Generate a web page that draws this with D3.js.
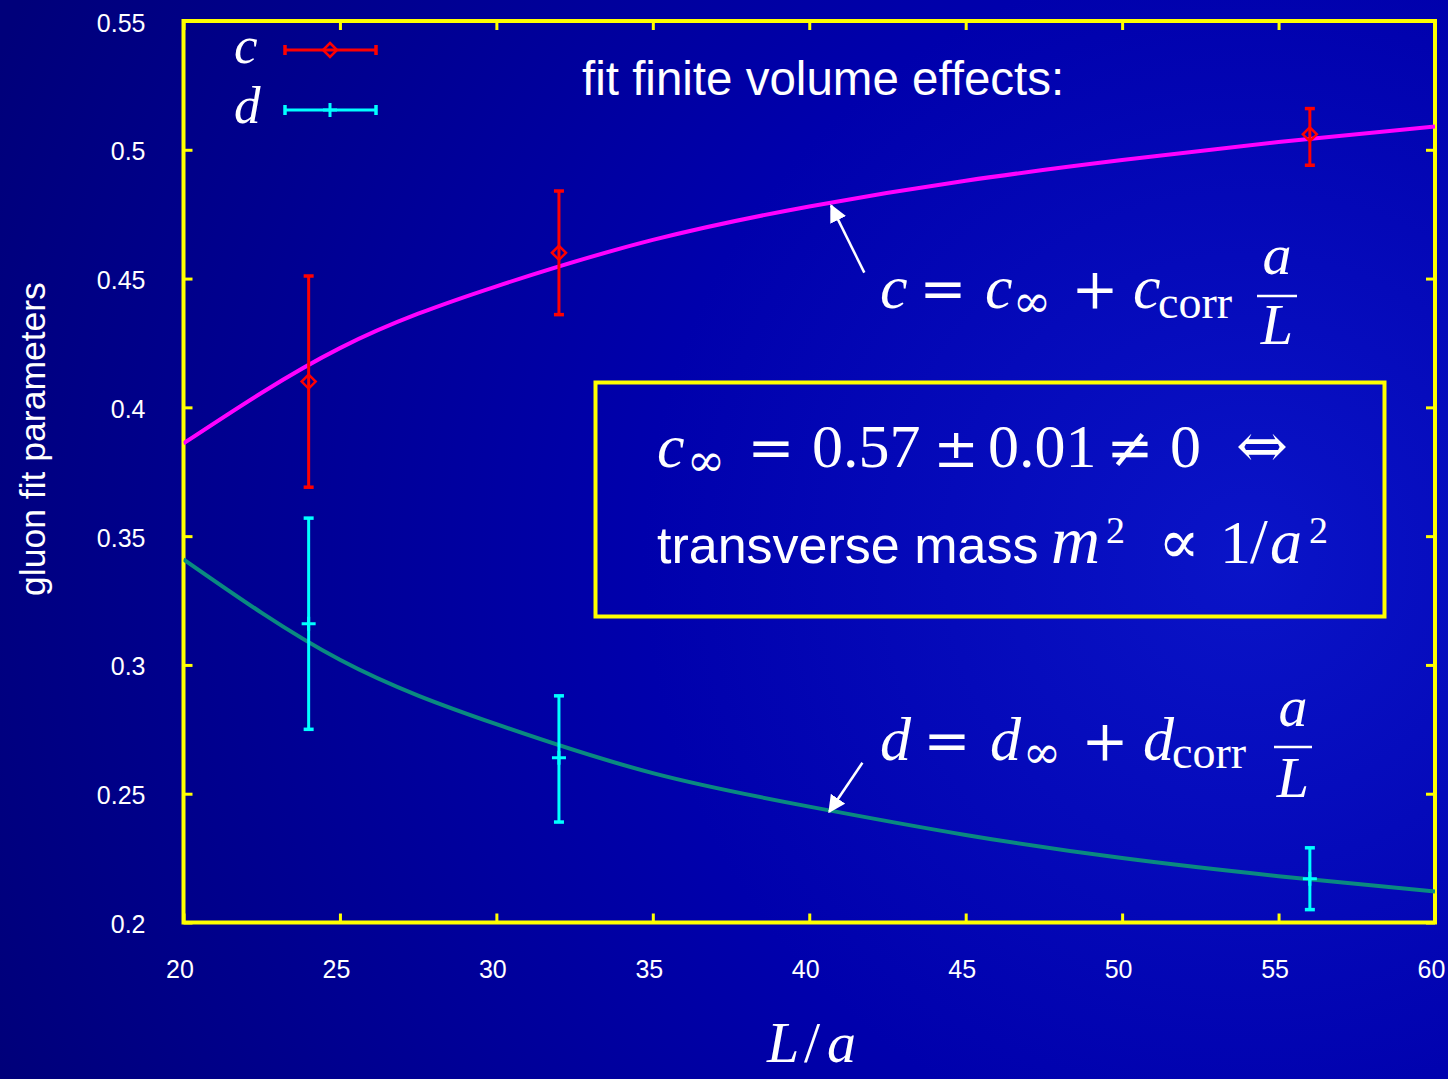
<!DOCTYPE html>
<html>
<head>
<meta charset="utf-8">
<script src="https://cdn.jsdelivr.net/npm/d3@7"></script>
<style>
  html, body { margin: 0; padding: 0; background: #000080; }
  svg { display: block; }
</style>
</head>
<body>
<svg id="chart" width="1448" height="1079"></svg>
<script>
// Measured fit parameters versus lattice extent L/a
const sizes = [24, 32, 56];
const cValues = [0.410, 0.460, 0.506];
const cLow = [0.369, 0.436, 0.494];
const cHigh = [0.451, 0.484, 0.516];
const dValues = [0.316, 0.264, 0.217];
const dLow = [0.275, 0.239, 0.205];
const dHigh = [0.357, 0.288, 0.229];

// Fitted curves c = c_inf + c_corr a/L and d = d_inf + d_corr a/L
const fitL = [20, 25, 30, 35, 40, 45, 50, 55, 60];
const cFit = [0.386, 0.423, 0.447, 0.465, 0.478, 0.488, 0.496, 0.503, 0.509];
const dFit = [0.341, 0.302, 0.277, 0.258, 0.245, 0.234, 0.225, 0.218, 0.212];

const xTicks = [20, 25, 30, 35, 40, 45, 50, 55, 60];
const yTicks = [0.2, 0.25, 0.3, 0.35, 0.4, 0.45, 0.5, 0.55];

const W = 1448, H = 1079;
const plotLeft = 183.5, plotRight = 1435, plotTop = 21, plotBottom = 922.5;

const svg = d3.select("#chart");
const defs = svg.append("defs");

// Background: deep blue, lighter toward the right
const bg = defs.append("radialGradient").attr("id", "bg")
  .attr("gradientUnits", "userSpaceOnUse")
  .attr("cx", 1250).attr("cy", 560).attr("r", 1350);
bg.append("stop").attr("offset", "0").attr("stop-color", "#0a14c8");
bg.append("stop").attr("offset", "0.45").attr("stop-color", "#0000ac");
bg.append("stop").attr("offset", "1").attr("stop-color", "#00007a");
svg.append("rect").attr("width", W).attr("height", H).attr("fill", "url(#bg)");

defs.append("clipPath").attr("id", "plotclip")
  .append("rect").attr("x", plotLeft).attr("y", plotTop)
  .attr("width", plotRight - plotLeft).attr("height", plotBottom - plotTop);

const x = d3.scaleLinear().domain([20, 60]).range([plotLeft, plotRight]);
const y = d3.scaleLinear().domain([0.2, 0.55]).range([plotBottom, plotTop]);

const yellow = "#ffff00";
const tickFont = "'Liberation Sans', Arial, sans-serif";
const serif = "'Liberation Serif', 'Times New Roman', serif";
const opFont = "'DejaVu Serif', serif";

// Axes with inward ticks on all four sides
const axisStyle = g => {
  g.selectAll(".domain").remove();
  g.selectAll(".tick line").attr("stroke", yellow).attr("stroke-width", 3);
  g.selectAll(".tick text").attr("fill", "#ffffff")
    .attr("font-family", tickFont).attr("font-size", 25);
};
svg.append("g").attr("transform", `translate(0,${plotBottom})`)
  .call(d3.axisBottom(x).tickValues(xTicks).tickSize(-9).tickPadding(38).tickFormat(d3.format("d")))
  .call(axisStyle)
  .call(g => g.selectAll(".tick text").attr("dx", -4));
svg.append("g").attr("transform", `translate(0,${plotTop})`)
  .call(d3.axisTop(x).tickValues(xTicks).tickSize(-9).tickFormat(""))
  .call(axisStyle);
svg.append("g").attr("transform", `translate(${plotLeft},0)`)
  .call(d3.axisLeft(y).tickValues(yTicks).tickSize(-9).tickPadding(38).tickFormat(d => String(+d.toFixed(2))))
  .call(axisStyle)
  .call(g => g.selectAll(".tick text").attr("dy", "0.4em"));
svg.append("g").attr("transform", `translate(${plotRight},0)`)
  .call(d3.axisRight(y).tickValues(yTicks).tickSize(-9).tickFormat(""))
  .call(axisStyle);

// Plot frame
svg.append("rect").attr("x", plotLeft).attr("y", plotTop)
  .attr("width", plotRight - plotLeft).attr("height", plotBottom - plotTop)
  .attr("fill", "none").attr("stroke", yellow).attr("stroke-width", 4);

// Fit curves
const plot = svg.append("g").attr("clip-path", "url(#plotclip)");
const line = d3.line().x(d => x(d[0])).y(d => y(d[1])).curve(d3.curveNatural);
plot.append("path").datum(fitL.map((L, i) => [L, cFit[i]]))
  .attr("d", line).attr("fill", "none").attr("stroke", "#ff00ff").attr("stroke-width", 4);
plot.append("path").datum(fitL.map((L, i) => [L, dFit[i]]))
  .attr("d", line).attr("fill", "none").attr("stroke", "#0a8a80").attr("stroke-width", 4);

// Error bars and markers
function errorBars(vals, lo, hi, color, marker) {
  const g = svg.append("g").attr("stroke", color).attr("fill", "none");
  sizes.forEach((L, i) => {
    const cx = x(L);
    g.append("line").attr("x1", cx).attr("x2", cx).attr("y1", y(lo[i])).attr("y2", y(hi[i]))
      .attr("stroke-width", 3);
    [lo[i], hi[i]].forEach(v => g.append("line")
      .attr("x1", cx - 5).attr("x2", cx + 5).attr("y1", y(v)).attr("y2", y(v))
      .attr("stroke-width", 3.5));
    marker(g, cx, y(vals[i]));
  });
}
const diamond = (g, cx, cy) => g.append("path")
  .attr("d", `M${cx},${cy - 7}L${cx + 7},${cy}L${cx},${cy + 7}L${cx - 7},${cy}Z`)
  .attr("stroke-width", 2.5);
const plus = (g, cx, cy) => g.append("path")
  .attr("d", `M${cx - 7},${cy}H${cx + 7}M${cx},${cy - 7}V${cy + 7}`)
  .attr("stroke-width", 3);

errorBars(cValues, cLow, cHigh, "#ff0000", diamond);
errorBars(dValues, dLow, dHigh, "#00ffff", plus);

// Legend
function legendRow(yy, label, color, marker) {
  svg.append("text").attr("x", 234).attr("y", yy + 13).text(label)
    .attr("font-family", serif).attr("font-style", "italic").attr("font-size", 53)
    .attr("fill", "#ffffff");
  const g = svg.append("g").attr("stroke", color).attr("fill", "none");
  g.append("line").attr("x1", 285).attr("x2", 376).attr("y1", yy).attr("y2", yy).attr("stroke-width", 3);
  [285, 376].forEach(xx => g.append("line").attr("x1", xx).attr("x2", xx)
    .attr("y1", yy - 5).attr("y2", yy + 5).attr("stroke-width", 3.5));
  marker(g, 330, yy);
}
legendRow(50, "c", "#ff0000", diamond);
legendRow(110, "d", "#00ffff", plus);

// Text helpers
function put(xx, yy, str, opts = {}) {
  return svg.append("text").attr("x", xx).attr("y", yy).text(str)
    .attr("fill", "#ffffff")
    .attr("font-family", opts.family || serif)
    .attr("font-style", opts.italic ? "italic" : "normal")
    .attr("font-size", opts.size || 60)
    .attr("text-anchor", opts.anchor || "start");
}
function fraction(cx, yTop, yBar, yBot, w) {
  put(cx, yTop, "a", { italic: true, size: 58, anchor: "middle" });
  svg.append("line").attr("x1", cx - w / 2).attr("x2", cx + w / 2)
    .attr("y1", yBar).attr("y2", yBar).attr("stroke", "#ffffff").attr("stroke-width", 2.5);
  put(cx, yBot, "L", { italic: true, size: 58, anchor: "middle" });
}

put(582, 95, "fit finite volume effects:", { family: tickFont, size: 47.5 });

// c = c_inf + c_corr a/L
put(880, 308, "c", { italic: true, size: 62 });
put(943, 308, "=", { family: opFont, size: 56, anchor: "middle" });
put(985, 308, "c", { italic: true, size: 62 });
put(1032, 317, "∞", { family: opFont, size: 46, anchor: "middle" });
put(1095, 308, "+", { family: opFont, size: 56, anchor: "middle" });
put(1133, 308, "c", { italic: true, size: 62 });
put(1158, 318, "corr", { size: 46 });
fraction(1277, 274, 296, 344, 40);

// d = d_inf + d_corr a/L
put(880, 760, "d", { italic: true, size: 62 });
put(947, 760, "=", { family: opFont, size: 56, anchor: "middle" });
put(990, 760, "d", { italic: true, size: 62 });
put(1042, 768, "∞", { family: opFont, size: 46, anchor: "middle" });
put(1105, 760, "+", { family: opFont, size: 56, anchor: "middle" });
put(1143, 760, "d", { italic: true, size: 62 });
put(1172, 768, "corr", { size: 46 });
fraction(1293, 726, 747, 797, 38);

// Annotation arrows pointing at the fitted curves
defs.append("marker").attr("id", "arrow").attr("viewBox", "0 0 10 10")
  .attr("refX", 9).attr("refY", 5).attr("markerWidth", 7).attr("markerHeight", 7)
  .attr("markerUnits", "strokeWidth").attr("orient", "auto")
  .append("path").attr("d", "M0,0L10,5L0,10Z").attr("fill", "#ffffff");
const arrows = [
  { from: [41.76, 0.4523], to: [40.70, 0.4783] },
  { from: [41.70, 0.2620], to: [40.64, 0.2430] }
];
svg.selectAll(".arrow").data(arrows).join("line")
  .attr("x1", d => x(d.from[0])).attr("y1", d => y(d.from[1]))
  .attr("x2", d => x(d.to[0])).attr("y2", d => y(d.to[1]))
  .attr("stroke", "#ffffff").attr("stroke-width", 2.5).attr("marker-end", "url(#arrow)");

// Result box
svg.append("rect").attr("x", 595.5).attr("y", 382.5).attr("width", 789).attr("height", 234)
  .attr("fill", "none").attr("stroke", yellow).attr("stroke-width", 4);
put(657, 467, "c", { italic: true, size: 62 });
put(706, 476, "∞", { family: opFont, size: 46, anchor: "middle" });
put(771, 467, "=", { family: opFont, size: 56, anchor: "middle" });
put(812, 467, "0.57", { size: 62 });
put(956, 467, "±", { family: opFont, size: 54, anchor: "middle" });
put(988, 467, "0.01", { size: 62 });
put(1130, 467, "≠", { family: opFont, size: 56, anchor: "middle" });
put(1170, 467, "0", { size: 62 });
put(1262, 467, "⇔", { family: opFont, size: 62, anchor: "middle" });

put(657, 563, "transverse mass", { family: tickFont, size: 52 });
put(1051, 563, "m", { italic: true, size: 68 });
put(1106, 543, "2", { size: 38 });
put(1179, 563, "∝", { family: opFont, size: 62, anchor: "middle" });
put(1220, 563, "1", { size: 62 });
put(1250, 563, "/", { size: 64 });
put(1270, 563, "a", { italic: true, size: 64 });
put(1309, 543, "2", { size: 38 });

// Axis titles
svg.append("text").attr("transform", "translate(45,439) rotate(-90)")
  .attr("text-anchor", "middle").attr("fill", "#ffffff")
  .attr("font-family", tickFont).attr("font-size", 35.5).text("gluon fit parameters");
put(767, 1062, "L", { italic: true, size: 58 });
put(804, 1062, "/", { size: 58 });
put(827, 1062, "a", { italic: true, size: 58 });
</script>
</body>
</html>
